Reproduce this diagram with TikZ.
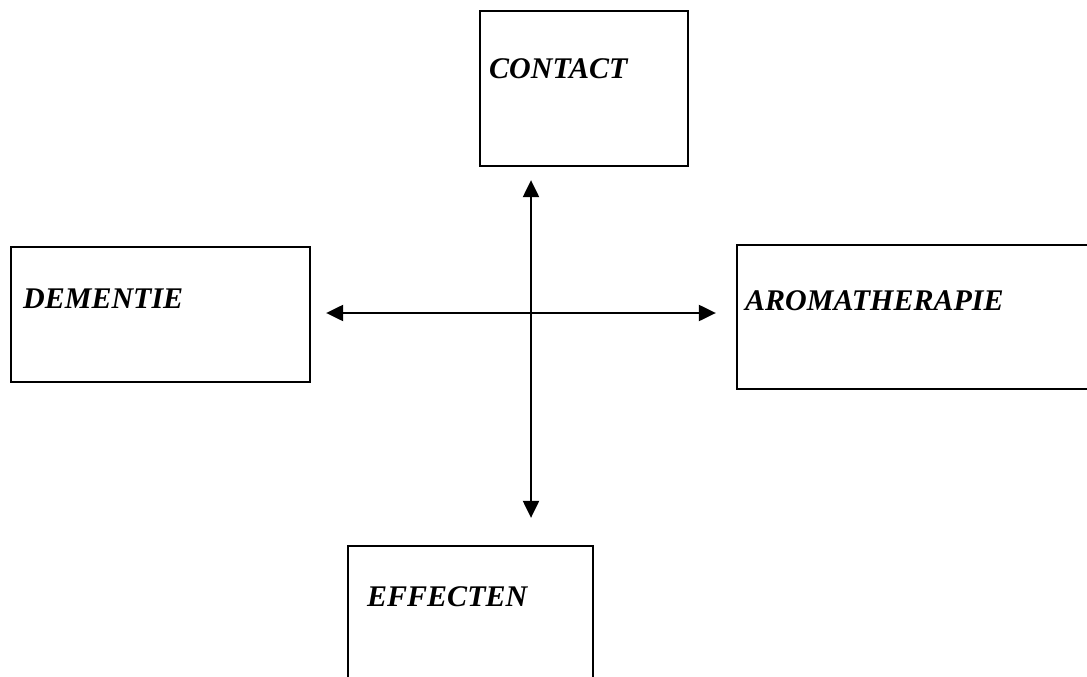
\documentclass[tikz,border=0pt]{standalone}
\usepackage{fontspec}
\setmainfont{Liberation Serif}
\usepackage{tikz}
\usetikzlibrary{arrows.meta,positioning,calc}

\begin{document}
\begin{tikzpicture}[x=1pt, y=-1pt,
    topicbox/.style={draw, line width=2.3pt, rectangle, inner sep=0pt},
    topiclabel/.style={anchor=base west, inner sep=0pt, font=\fontsize{30}{35}\selectfont\bfseries\itshape},
    biarrow/.style={line width=2.2pt, {Triangle[length=17pt,width=16pt]}-{Triangle[length=17pt,width=16pt]}}]
    % Page frame
    \useasboundingbox (0,0) rectangle (1087,677);
    \clip (0,0) rectangle (1087,677);

    % Boxes
    \node[topicbox, minimum width=208pt, minimum height=155pt] (contact) at (584,88.5) {};
    \node[topicbox, minimum width=299pt, minimum height=135pt] (dementie) at (160.5,314.5) {};
    \node[topicbox, minimum width=360pt, minimum height=144pt] (aroma) at (917,317) {};
    \node[topicbox, minimum width=245pt, minimum height=160pt] (effecten) at (470.5,626) {};

    % Labels
    \node[topiclabel] (contactlabel) at (489,78) {CONTACT};
    \node[topiclabel] (dementielabel) at (23,308) {DEMENTIE};
    \node[topiclabel] (aromalabel) at (745,310) {AROMATHERAPIE};
    \node[topiclabel] (effectenlabel) at (367,606) {EFFECTEN};

    % Cross of arrows
    \coordinate (hub) at (531,313);
    \draw[biarrow, shorten <=13pt, shorten >=27pt] (contact.south -| hub) -- (effecten.north -| hub);
    \draw[biarrow, shorten <=15pt, shorten >=20pt] (dementie.east |- hub) -- (aroma.west |- hub);
\end{tikzpicture}
\end{document}
